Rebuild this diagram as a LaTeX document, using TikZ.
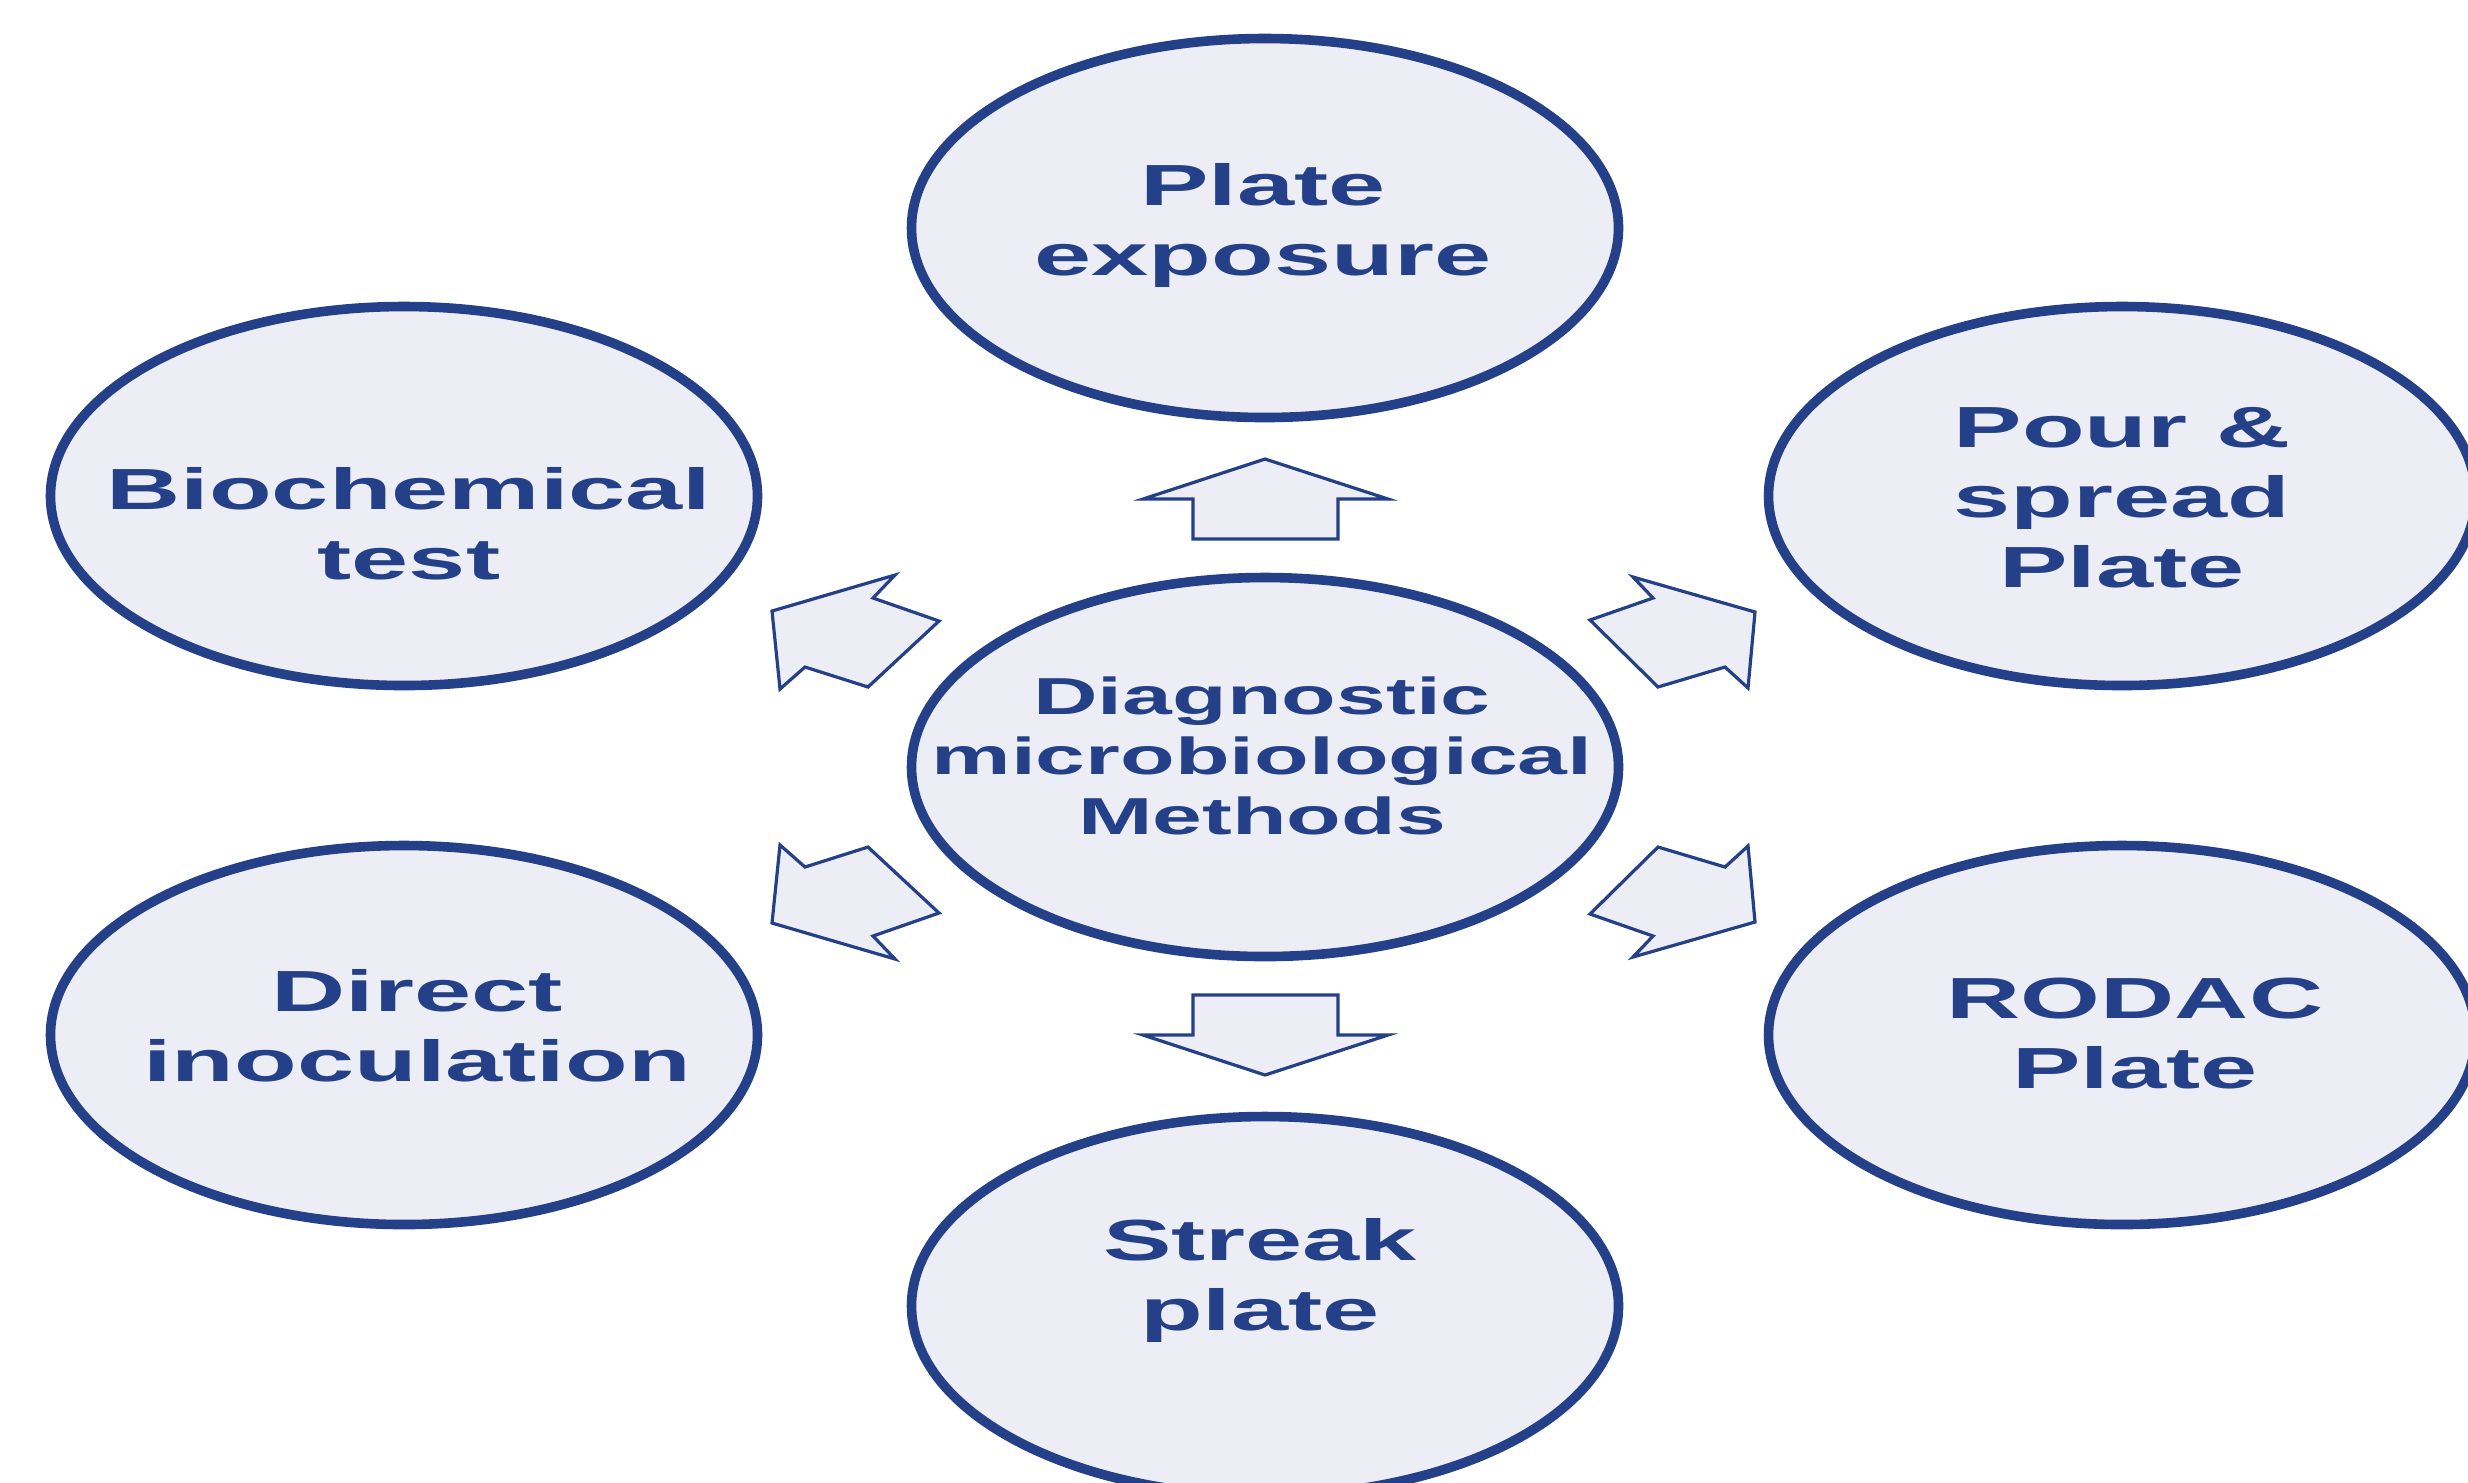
\documentclass[tikz,border=0pt]{standalone}
\usepackage{fontspec}
\setmainfont{Liberation Sans}
\usetikzlibrary{shapes.geometric}
\definecolor{dblue}{RGB}{36,64,136}
\definecolor{lfill}{RGB}{237,238,245}
\newcommand\sxtext[1]{\scalebox{1.77}[1]{\begin{tabular}[t]{@{}c@{}}#1\end{tabular}}}
\newcommand\sxctext[1]{\scalebox{1.72}[1]{\begin{tabular}[t]{@{}c@{}}#1\end{tabular}}}
\begin{document}
\begin{tikzpicture}[x=0.25pt,y=-0.25pt,
 oval/.style={ellipse,draw=dblue,fill=lfill,line width=2.4pt,minimum width=176.75pt,minimum height=94.75pt,inner sep=0pt},
 lbl/.style={anchor=base,inner sep=0pt,text=dblue,font=\fontsize{14.5}{17.5}\selectfont\bfseries},
 clbl/.style={anchor=base,inner sep=0pt,text=dblue,font=\fontsize{13}{15}\selectfont\bfseries},
 blockarrow/.style={draw=dblue,fill=lfill,line width=0.8pt,line join=miter}]
\useasboundingbox (0,0) rectangle (2468,1482);
\clip (0,0) rectangle (2468,1482);
\fill[white] (0,0) rectangle (2468,1482);

% ellipses
\node[oval] (pe) at (1265,228) {};
\node[oval] (bt) at (404,496) {};
\node[oval] (ps) at (2122,496) {};
\node[oval] (dm) at (1265,767) {};
\node[oval] (di) at (404,1035) {};
\node[oval] (rp) at (2122,1035) {};
\node[oval] (sp) at (1265,1306) {};

% labels
\node[lbl] (tpe) at (1263,205) {\sxtext{Plate\\exposure}};
\node[lbl] (tbt) at (409,509) {\sxtext{Biochemical\\test}};
\node[lbl] (tps) at (2122,447) {\sxtext{Pour \&\\spread\\Plate}};
\node[clbl] (tdm) at (1262,714) {\sxctext{Diagnostic\\microbiological\\Methods}};
\node[lbl] (tdi) at (417,1011) {\sxtext{Direct\\inoculation}};
\node[lbl] (trp) at (2135,1018) {\sxtext{RODAC\\Plate}};
\node[lbl] (tsp) at (1260,1260) {\sxtext{Streak\\plate}};

% block arrows
\draw[blockarrow] (1265,459) -- (1388,499) -- (1338,499) -- (1338,539) -- (1193,539) -- (1193,499) -- (1143,499) -- cycle;
\draw[blockarrow] (1265,1075) -- (1388,1035) -- (1338,1035) -- (1338,995) -- (1193,995) -- (1193,1035) -- (1143,1035) -- cycle;
\draw[blockarrow] (772,611) -- (895,575) -- (873,598) -- (939,621) -- (868,687) -- (805,667) -- (780,689) -- cycle;
\draw[blockarrow] (1755,612) -- (1633,577) -- (1653,598) -- (1590,620) -- (1658,687) -- (1725,667) -- (1748,688) -- cycle;
\draw[blockarrow] (772,923) -- (895,959) -- (873,936) -- (939,913) -- (868,847) -- (805,867) -- (780,845) -- cycle;
\draw[blockarrow] (1755,922) -- (1633,957) -- (1653,936) -- (1590,914) -- (1658,847) -- (1725,867) -- (1748,846) -- cycle;
\end{tikzpicture}
\end{document}
